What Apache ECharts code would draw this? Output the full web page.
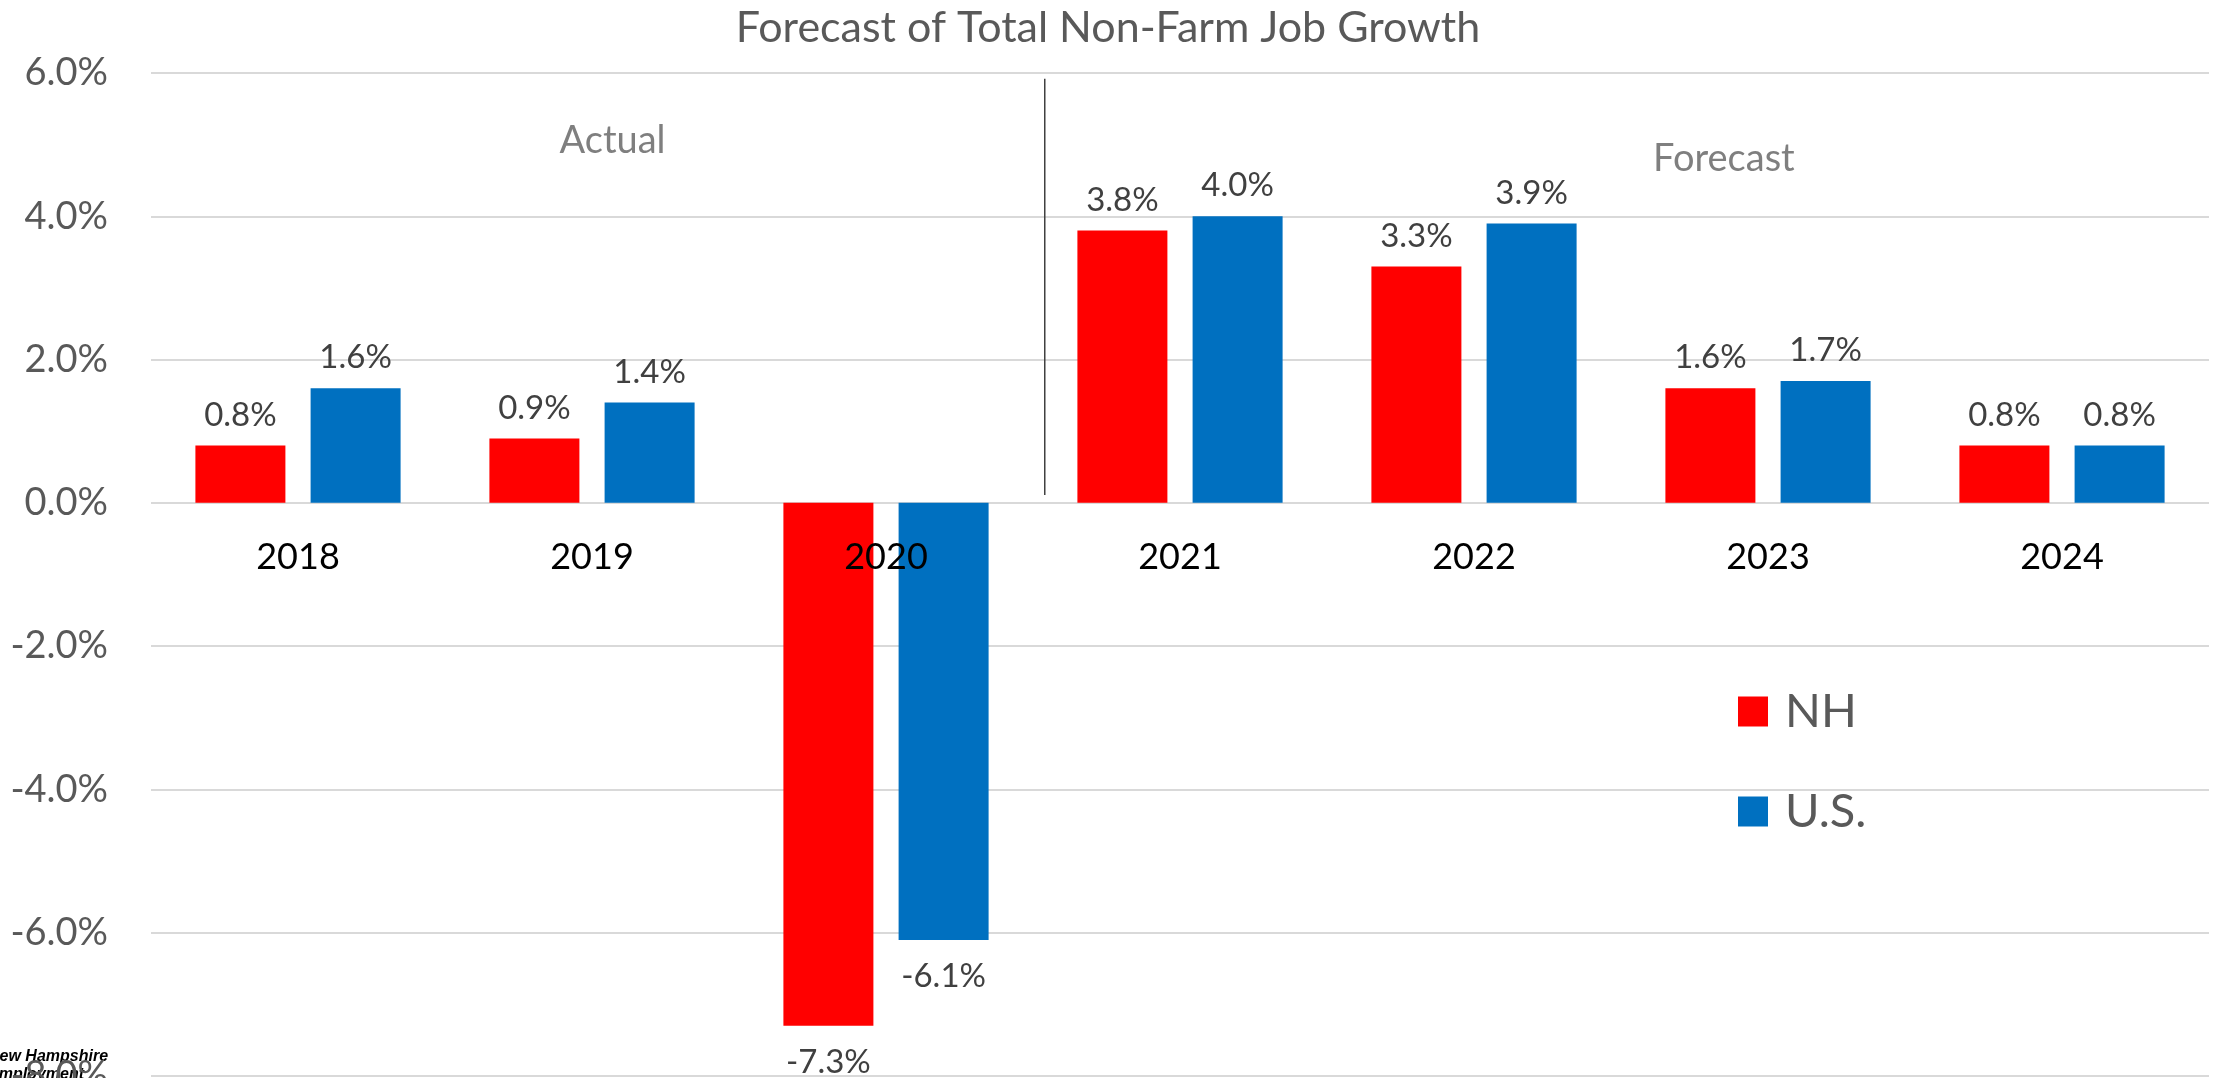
<!DOCTYPE html>
<html>
<head>
<meta charset="utf-8">
<title>Forecast of Total Non-Farm Job Growth</title>
<script src="https://cdn.jsdelivr.net/npm/echarts@6/dist/echarts.min.js"></script>
<style>
  html, body { margin: 0; padding: 0; background: #ffffff; }
  #chart { width: 2216px; height: 1078px; }
</style>
</head>
<body>
<div id="chart"></div>
<script>
// Annual non-farm job growth, percent
const years = ['2018', '2019', '2020', '2021', '2022', '2023', '2024'];
const nhGrowth = [0.8, 0.9, -7.3, 3.8, 3.3, 1.6, 0.8];
const usGrowth = [1.6, 1.4, -6.1, 4.0, 3.9, 1.7, 0.8];
const seriesNames = ['NH', 'U.S.'];
const yTicks = { min: -8, max: 6, step: 2 };

// Period annotations: label, year it sits over, offset within the band, height in %
const periodNotes = [
  { text: 'Actual', year: '2019', shift: 0.07, value: 5.05 },
  { text: 'Forecast', year: '2023', shift: -0.15, value: 4.8 }
];
// Divider between actual and forecast years
const divider = { after: '2020', shift: 0.54, from: 0.11, to: 5.92 };

const FONT = 'Lato, "Open Sans", sans-serif';
const pct = v => v.toFixed(1) + '%';

// Negative bars carry their label beneath the bar end
const asItems = arr => arr.map(v => ({
  value: v,
  label: { position: v < 0 ? 'bottom' : 'top', distance: v < 0 ? 20 : 14 }
}));

const GRID = { left: 151, right: 7, top: 73, bottom: 2 };
const CHART_H = 1078;
// Year labels hang just under the zero line
const zeroY = GRID.top + (CHART_H - GRID.top - GRID.bottom) * yTicks.max / (yTicks.max - yTicks.min);
const yearLabelMargin = -((CHART_H - GRID.bottom) - zeroY - 37);

const chart = echarts.init(document.getElementById('chart'), null, { renderer: 'canvas' });

chart.setOption({
  animation: false,
  backgroundColor: '#ffffff',
  title: {
    text: 'Forecast of Total Non-Farm Job Growth',
    left: 'center',
    top: 2,
    textStyle: { fontFamily: FONT, fontWeight: 'normal', fontSize: 43, color: '#595959' }
  },
  legend: {
    orient: 'vertical',
    left: 1733,
    top: 683,
    itemWidth: 30,
    itemHeight: 30,
    itemGap: 53,
    icon: 'rect',
    data: seriesNames,
    textStyle: { fontFamily: FONT, fontSize: 47, color: '#595959', padding: [0, 0, 0, 12] }
  },
  grid: Object.assign({ containLabel: false, outerBoundsMode: 'none' }, GRID),
  xAxis: {
    type: 'category',
    data: years,
    z: 5,
    axisLine: { show: false },
    axisTick: { show: false },
    axisLabel: { fontFamily: FONT, fontSize: 36, color: '#000000', margin: yearLabelMargin }
  },
  yAxis: {
    type: 'value',
    min: yTicks.min,
    max: yTicks.max,
    interval: yTicks.step,
    axisLine: { show: false },
    axisTick: { show: false },
    splitLine: { lineStyle: { color: '#d9d9d9', width: 2 } },
    axisLabel: { fontFamily: FONT, fontSize: 38, color: '#595959', margin: 43, formatter: pct }
  },
  series: [
    {
      name: seriesNames[0],
      type: 'bar',
      data: asItems(nhGrowth),
      barWidth: 90,
      barGap: '28%',
      itemStyle: { color: '#ff0000' },
      label: { show: true, fontFamily: FONT, fontSize: 33, color: '#404040', formatter: p => pct(p.value) }
    },
    {
      name: seriesNames[1],
      type: 'bar',
      data: asItems(usGrowth),
      barWidth: 90,
      barGap: '28%',
      itemStyle: { color: '#0070c0' },
      label: { show: true, fontFamily: FONT, fontSize: 33, color: '#404040', formatter: p => pct(p.value) }
    }
  ]
});

// Annotations anchored to the axes
function placeAnnotations() {
  const band = chart.convertToPixel({ gridIndex: 0 }, [years[1], 0])[0] -
               chart.convertToPixel({ gridIndex: 0 }, [years[0], 0])[0];
  const at = (year, shift, value) => {
    const p = chart.convertToPixel({ gridIndex: 0 }, [year, value]);
    return [p[0] + shift * band, p[1]];
  };
  const top = at(divider.after, divider.shift, divider.to);
  const bottom = at(divider.after, divider.shift, divider.from);

  const elements = [
    {
      type: 'line',
      z: 10,
      shape: { x1: top[0], y1: top[1], x2: bottom[0], y2: bottom[1] },
      style: { stroke: '#404040', lineWidth: 1.5 }
    },
    {
      type: 'text',
      z: 0,
      left: -12,
      top: 1048,
      style: {
        text: 'New Hampshire\nEmployment',
        font: 'italic bold 16px "Liberation Sans", Arial, sans-serif',
        fill: '#000000',
        lineHeight: 18
      }
    }
  ];
  periodNotes.forEach(n => {
    const p = at(n.year, n.shift, n.value);
    elements.push({
      type: 'text',
      z: 10,
      x: p[0],
      y: p[1],
      style: {
        text: n.text,
        font: '38px ' + FONT,
        fill: '#7f7f7f',
        align: 'center',
        verticalAlign: 'middle'
      }
    });
  });
  chart.setOption({ graphic: { elements: elements } }, { replaceMerge: ['graphic'] });
}

placeAnnotations();
window.addEventListener('resize', () => { chart.resize(); placeAnnotations(); });
</script>
</body>
</html>
